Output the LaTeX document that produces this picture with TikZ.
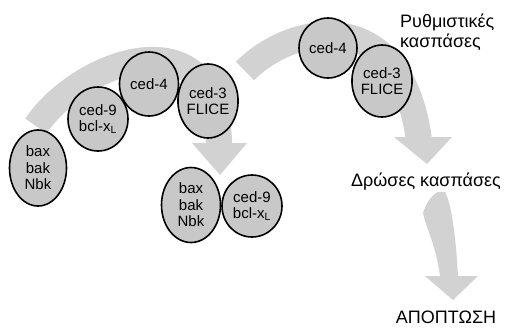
\documentclass[tikz,border=0pt]{standalone}
\usepackage{fontspec}
\setmainfont{Liberation Sans}
\usetikzlibrary{shapes.geometric}
\definecolor{bandgray}{RGB}{210,210,210}
\definecolor{blobgray}{RGB}{200,200,200}
\tikzset{
  blob/.style={ellipse, draw=black, line width=1.6pt, fill=blobgray, inner sep=0pt,
    align=center, font=\fontsize{15}{16.5}\selectfont},
  bandline/.style={draw=bandgray, line width=26pt},
  bandfill/.style={fill=bandgray, draw=none},
  lbl/.style={font=\fontsize{18}{20}\selectfont, inner sep=0pt, align=left}
}
\begin{document}
\begin{tikzpicture}[x=1pt,y=-1pt]
\useasboundingbox[fill=white] (0,0) rectangle (508,330);
% band 1
\draw[bandline] (36,126) .. controls (80,60) and (219,10) .. (219,146);
\fill[bandfill] (192,143) -- (247,143) -- (220,175) -- cycle;
% band 2
\draw[bandline] (245,71) .. controls (290,25) and (400,0) .. (419,140);
\fill[bandfill] (394,137) -- (452,137) -- (427,164) -- cycle;
% band 3
\fill[bandfill] (438,192) -- (445,192) .. controls (452,205) and (456,240) .. (458,276)
  -- (478,276) -- (453,300) -- (425,276) -- (440,276)
  .. controls (436,245) and (426,228) .. (423,213) .. controls (426,203) and (432,195) .. (438,192) -- cycle;
% first group
\node[blob, minimum width=57pt, minimum height=76pt] (bax1) at (38,168) {bax\\bak\\Nbk};
\node[blob, minimum width=60pt, minimum height=64pt] (ced9a) at (98,119) {ced-9\\bcl-x\textsubscript{L}};
\node[blob, minimum width=59pt, minimum height=64pt] (ced4a) at (149,84) {ced-4};
\node[blob, minimum width=59pt, minimum height=74pt] (ced3a) at (208,101) {ced-3\\FLICE};
% second group
\node[blob, minimum width=58pt, minimum height=60pt] (ced4b) at (328,48) {ced-4};
\node[blob, minimum width=58pt, minimum height=72pt] (ced3b) at (382,81) {ced-3\\FLICE};
% bottom group
\node[blob, minimum width=59pt, minimum height=75pt] (bax2) at (191,205) {bax\\bak\\Nbk};
\node[blob, minimum width=60pt, minimum height=62pt] (ced9b) at (252,206) {ced-9\\bcl-x\textsubscript{L}};
% labels
\node[lbl, anchor=west] (reg) at (400,32) {Ρυθμιστικές\\κασπάσες};
\node[lbl] (act) at (426,182) {Δρώσες κασπάσες};
\node[lbl] (apo) at (446,317) {ΑΠΟΠΤΩΣΗ};
\end{tikzpicture}
\end{document}
